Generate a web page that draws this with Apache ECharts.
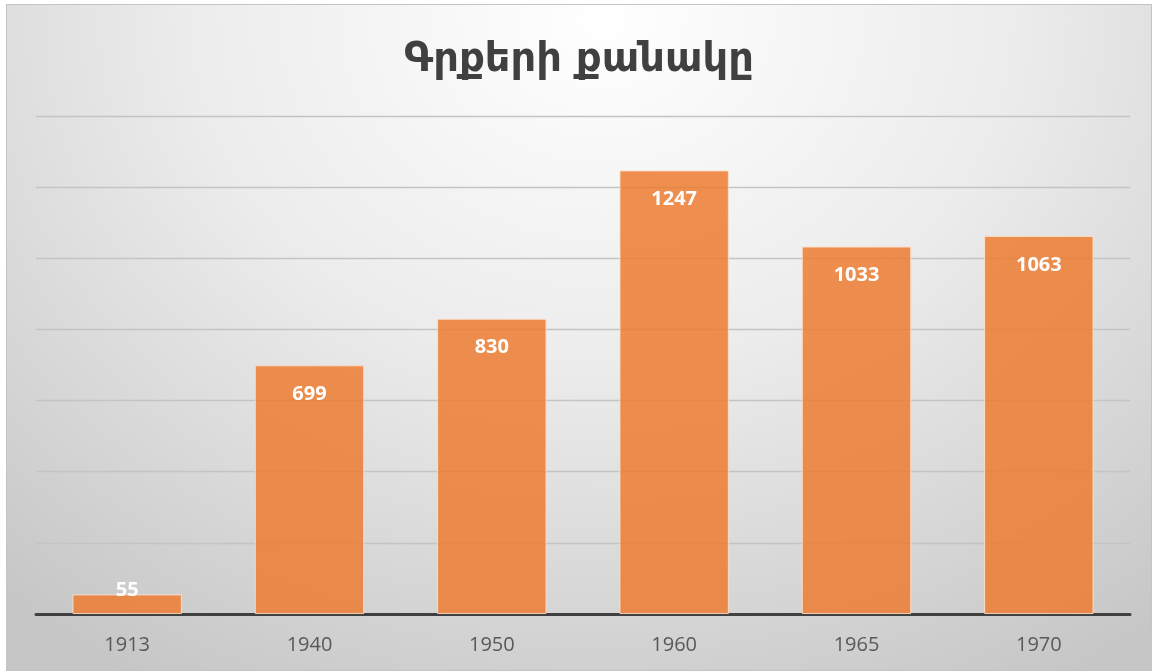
<!DOCTYPE html>
<html>
<head>
    <meta charset="UTF-8">
    <title>chart</title>
    <script src="https://cdn.jsdelivr.net/npm/echarts@6/dist/echarts.min.js"></script>
    <style>
        body { margin: 0; background: #fff; }
        #bar {
            position: absolute; left: 6px; top: 4px;
            width: 1144px; height: 665px;
            border: 1px solid #c4c4c4;
            background: radial-gradient(ellipse 80% 115% at 52% 2%, #ffffff 0%, #ececec 45%, #c6c6c6 100%);
        }
    </style>
</head>
<body>
    <div id="bar"></div>
    <script>
        var years = ['1913', '1940', '1950', '1960', '1965', '1970'];
        var books = [55, 699, 830, 1247, 1033, 1063];

        var chart = echarts.init(document.getElementById('bar'), null, {renderer: 'canvas'});

        var data = books.map(function (v) {
            // short bar: label sits over its top edge
            if (v < 150) {
                return {value: v, label: {position: 'top', distance: -6}};
            }
            return v;
        });

        chart.setOption({
            backgroundColor: 'transparent',
            title: {
                text: 'Գրքերի քանակը',
                left: 'center',
                top: 31,
                textStyle: {fontFamily: 'DejaVu Sans', fontWeight: 'bold', fontSize: 40, color: '#404040'}
            },
            grid: {left: 29, right: 21, top: 111, bottom: 56},
            xAxis: {
                type: 'category',
                data: years,
                axisLine: {lineStyle: {color: '#404040', width: 3}},
                axisTick: {show: false},
                axisLabel: {fontFamily: 'Open Sans', fontSize: 20, color: '#595959', margin: 21}
            },
            yAxis: {
                type: 'value',
                min: 0, max: 1400, interval: 200,
                axisLabel: {show: false},
                axisLine: {show: false},
                axisTick: {show: false},
                splitLine: {lineStyle: {color: '#c4c4c4', width: 1.3}}
            },
            series: [{
                type: 'bar',
                data: data,
                barCategoryGap: '40%',
                itemStyle: {
                    color: 'rgba(237,125,49,0.85)',
                    borderColor: 'rgba(255,225,205,0.85)',
                    borderWidth: 1
                },
                label: {
                    show: true,
                    position: 'insideTop',
                    distance: 19,
                    color: '#fff',
                    fontFamily: 'Open Sans',
                    fontWeight: 'bold',
                    fontSize: 20
                }
            }]
        });
    </script>
</body>
</html>
